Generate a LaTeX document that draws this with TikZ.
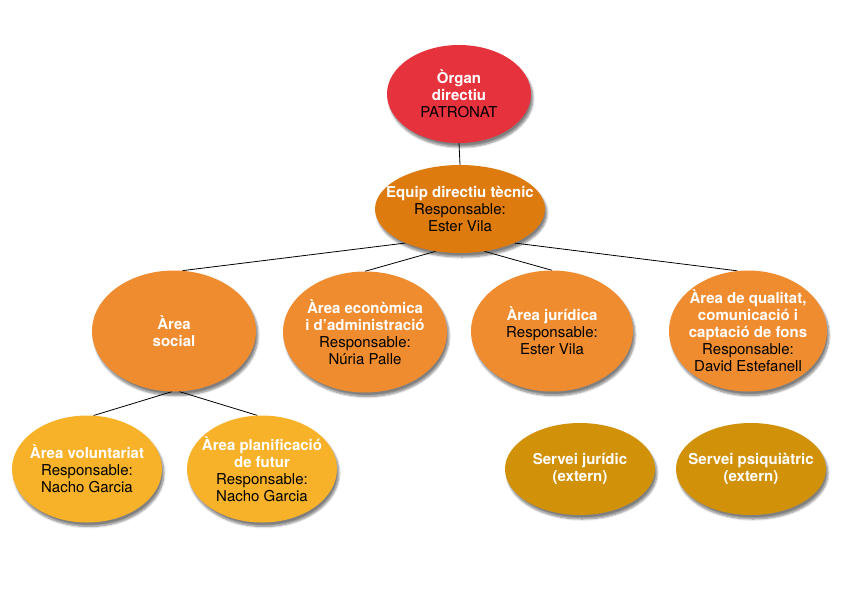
\documentclass[tikz,border=0pt]{standalone}
\usepackage{fontspec}
\setmainfont{TeX Gyre Heros}
\definecolor{org_red}{RGB}{230, 50, 60}
\definecolor{org_dark}{RGB}{222, 123, 14}
\definecolor{org_mid}{RGB}{240, 140, 48}
\definecolor{org_yellow}{RGB}{247, 178, 42}
\definecolor{org_gold}{RGB}{209, 146, 10}
\usetikzlibrary{shapes.geometric, backgrounds, shadows.blur}
\newcommand{\resp}[1]{\mdseries\color{black}Responsable:\\\mdseries\color{black}#1}

\begin{document}
\begin{tikzpicture}[x=1pt, y=-1pt,
          font=\fontsize{15}{17}\selectfont\bfseries,
          org/.style={ellipse, inner sep=-16pt, align=center, text=white,
                      blur shadow={shadow xshift=2pt, shadow yshift=-4pt,
                                   shadow blur steps=8, shadow opacity=50}},
          lnk/.style={black, line width=0.8pt}]
          \useasboundingbox (0,0) rectangle (842,595);
          % top
          \node[org, fill=org_red, minimum width=144pt, minimum height=98pt]
            (organ) at (459, 94) {Òrgan\\directiu\\\mdseries\color{black}PATRONAT};
          \node[org, fill=org_dark, minimum width=170pt, minimum height=88pt]
            (equip) at (460, 209) {Equip directiu tècnic\\\resp{Ester Vila}};
          % areas
          \node[org, fill=org_mid, minimum width=164pt, minimum height=121pt]
            (social) at (174, 331) {Àrea\\social};
          \node[org, fill=org_mid, minimum width=164pt, minimum height=121pt]
            (econ) at (365, 332) {Àrea econòmica\\i d’administració\\\resp{Núria Palle}};
          \node[org, fill=org_mid, minimum width=162pt, minimum height=121pt]
            (jur) at (552, 331) {Àrea jurídica\\\resp{Ester Vila}};
          \node[org, fill=org_mid, minimum width=158pt, minimum height=121pt]
            (qual) at (748, 331) {Àrea de qualitat,\\comunicació i\\captació de fons\\\resp{David Estefanell}};
          % bottom row
          \node[org, fill=org_yellow, minimum width=150pt, minimum height=107pt]
            (vol) at (87, 469) {Àrea voluntariat\\\resp{Nacho Garcia}};
          \node[org, fill=org_yellow, minimum width=150pt, minimum height=107pt]
            (plan) at (262, 469) {Àrea planificació\\de futur\\\resp{Nacho Garcia}};
          \node[org, fill=org_gold, minimum width=150pt, minimum height=92pt]
            (sjur) at (580, 469) {Servei jurídic\\(extern)};
          \node[org, fill=org_gold, minimum width=150pt, minimum height=92pt]
            (spsi) at (751, 469) {Servei psiquiàtric\\(extern)};
          \begin{scope}[on background layer]
          \draw[lnk] (organ.south) -- (equip.north);
          \draw[lnk] (equip.212) -- (social.82);
          \draw[lnk] (equip.240) -- (econ.north);
          \draw[lnk] (equip.300) -- (jur.north);
          \draw[lnk] (equip.328) -- (qual.100);
          \draw[lnk] (social.268) -- (vol.83);
          \draw[lnk] (social.275) -- (plan.95);
          \end{scope}
        \end{tikzpicture}
\end{document}
